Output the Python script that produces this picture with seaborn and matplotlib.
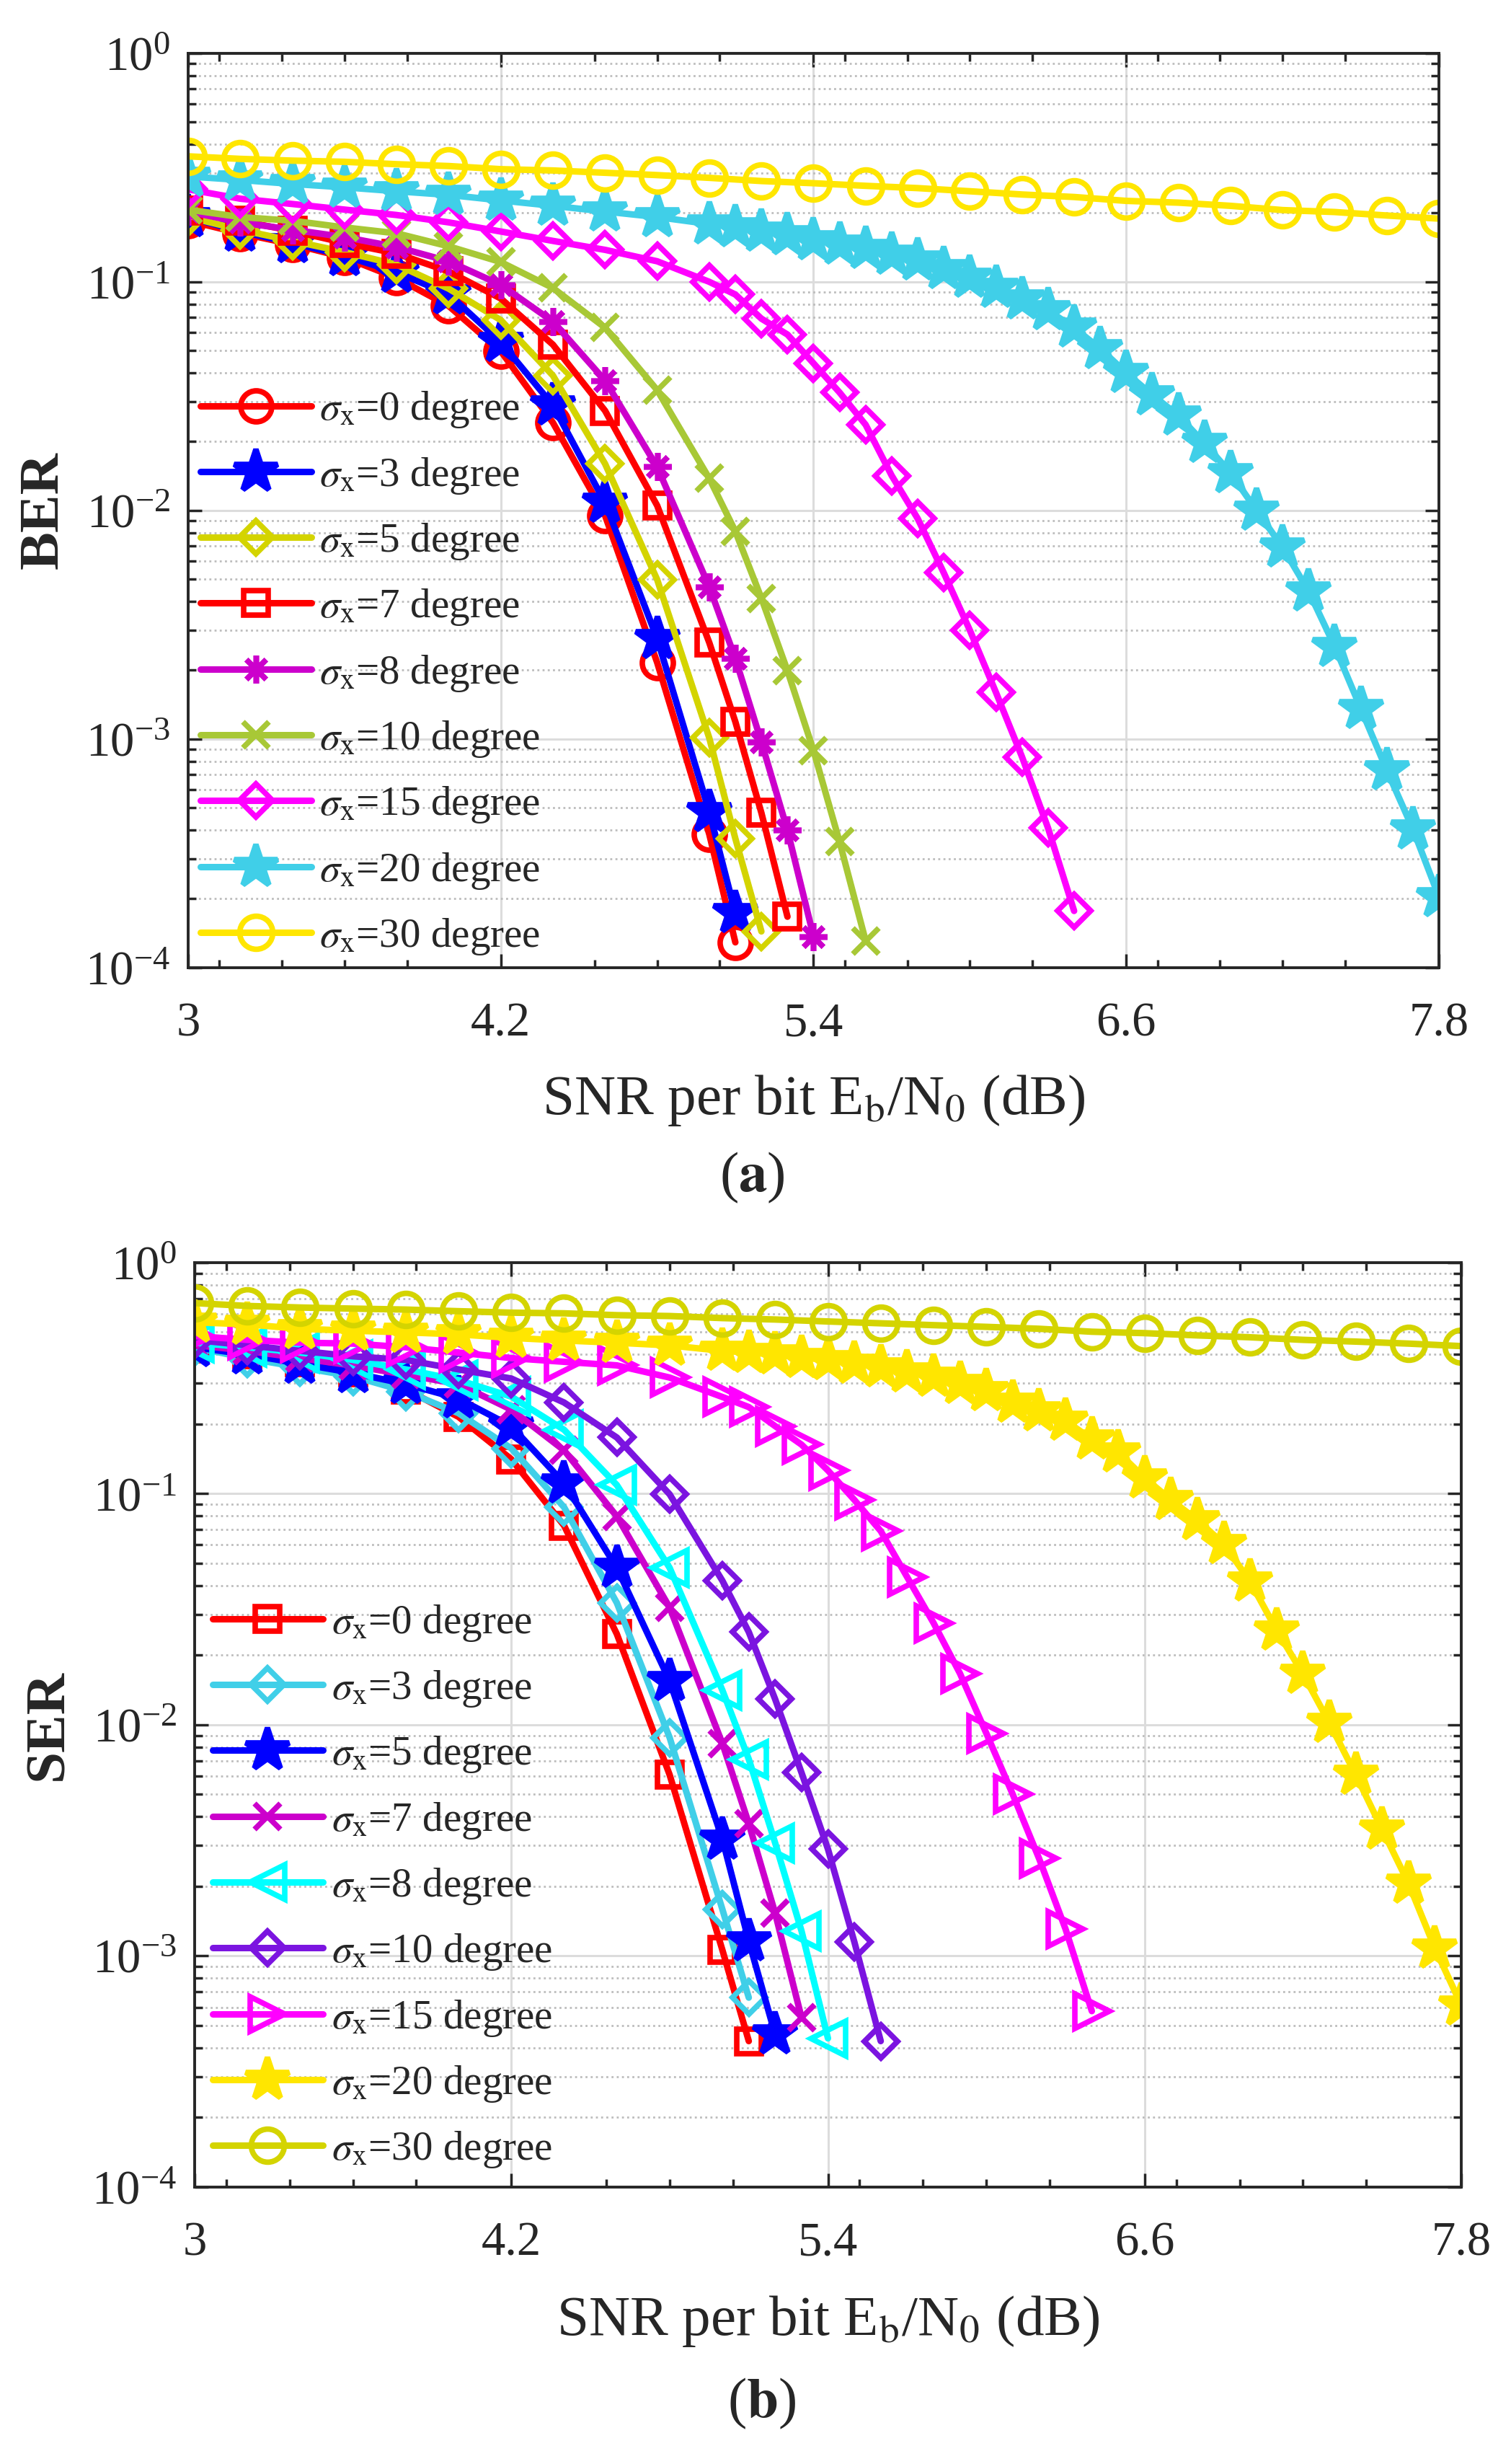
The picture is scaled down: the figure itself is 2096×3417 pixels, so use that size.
import numpy as np
import pandas as pd
import matplotlib
matplotlib.use("Agg")
import matplotlib.pyplot as plt
import seaborn as sns
from matplotlib.ticker import LogLocator, NullFormatter, FixedLocator

# Ejes de SNR (dB)
snr_grueso = [3.0, 3.2, 3.4, 3.6, 3.8, 4.0, 4.2, 4.4, 4.6, 4.8, 5.0]
snr_fino = [5.1, 5.2, 5.3, 5.4, 5.5, 5.6, 5.7, 5.8, 5.9, 6.0, 6.1, 6.2, 6.3, 6.4,
            6.5, 6.6, 6.7, 6.8, 6.9, 7.0, 7.1, 7.2, 7.3, 7.4, 7.5, 7.6, 7.7, 7.8]
snr_completo = [3.0, 3.2, 3.4, 3.6, 3.8, 4.0, 4.2, 4.4, 4.6, 4.8, 5.0, 5.2, 5.4,
                5.6, 5.8, 6.0, 6.2, 6.4, 6.6, 6.8, 7.0, 7.2, 7.4, 7.6, 7.8]

grados = [0, 3, 5, 7, 8, 10, 15, 20, 30]

# (a) BER
ber_0 = [0.185, 0.163, 0.146, 0.128, 0.104, 0.0784, 0.0497, 0.0242, 0.0095, 0.00216, 0.000383, 0.000129]
ber_3 = [0.192, 0.166, 0.148, 0.130, 0.110, 0.0883, 0.0545, 0.0288, 0.0108, 0.00275, 0.000481, 0.000173]
ber_5 = [0.192, 0.169, 0.151, 0.135, 0.119, 0.0933, 0.068, 0.0389, 0.0160, 0.00498, 0.00101, 0.000367, 0.000144]
ber_7 = [0.205, 0.185, 0.167, 0.148, 0.133, 0.111, 0.0845, 0.0531, 0.0273, 0.0105, 0.00264, 0.00119,
         0.000475, 0.000167]
ber_8 = [0.203, 0.182, 0.169, 0.157, 0.142, 0.123, 0.097, 0.067, 0.0370, 0.0155, 0.00463, 0.00225,
         0.00097, 0.000399, 0.000137]
ber_10 = [0.207, 0.192, 0.185, 0.173, 0.163, 0.143, 0.122, 0.094, 0.063, 0.0336, 0.0138, 0.0081,
          0.00413, 0.00199, 0.00089, 0.000355, 0.000131]
ber_15 = [0.254, 0.231, 0.219, 0.207, 0.196, 0.182, 0.166, 0.151, 0.138, 0.123, 0.100, 0.088, 0.069,
          0.0588, 0.044, 0.0328, 0.0237, 0.0142, 0.0092, 0.00533, 0.00299, 0.0016, 0.000836,
          0.000408, 0.000177]
ber_20 = [0.289, 0.279, 0.268, 0.259, 0.249, 0.240, 0.227, 0.215, 0.203, 0.192, 0.179, 0.173, 0.166,
          0.160, 0.152, 0.146, 0.139, 0.132, 0.124, 0.114, 0.104, 0.094, 0.084, 0.075, 0.063, 0.051,
          0.040, 0.032, 0.026, 0.0197, 0.0146, 0.0100, 0.0069, 0.00443, 0.00254, 0.00136, 0.00073,
          0.000404, 0.000204]
ber_30 = [0.354, 0.345, 0.339, 0.335, 0.327, 0.321, 0.311, 0.307, 0.300, 0.293, 0.285, 0.276, 0.270,
          0.263, 0.257, 0.249, 0.241, 0.235, 0.226, 0.222, 0.215, 0.206, 0.202, 0.195, 0.189]

# (b) SER
ser_0 = [0.425, 0.400, 0.372, 0.335, 0.283, 0.215, 0.141, 0.0728, 0.0247, 0.00608, 0.00106, 0.000428]
ser_3 = [0.430, 0.385, 0.352, 0.322, 0.277, 0.223, 0.157, 0.0874, 0.0337, 0.00881, 0.00159, 0.00066]
ser_5 = [0.430, 0.400, 0.365, 0.333, 0.298, 0.258, 0.196, 0.111, 0.0478, 0.0155, 0.0032, 0.00116, 0.000457]
ser_7 = [0.440, 0.415, 0.386, 0.358, 0.327, 0.298, 0.231, 0.154, 0.0798, 0.0322, 0.0083, 0.00374,
         0.00153, 0.00054]
ser_8 = [0.450, 0.430, 0.408, 0.379, 0.345, 0.310, 0.263, 0.189, 0.109, 0.0478, 0.0141, 0.0071,
         0.00308, 0.00128, 0.00044]
ser_10 = [0.463, 0.438, 0.415, 0.393, 0.379, 0.345, 0.315, 0.248, 0.175, 0.0994, 0.042, 0.0252,
          0.0129, 0.0062, 0.0029, 0.00115, 0.000428]
ser_15 = [0.481, 0.463, 0.450, 0.446, 0.430, 0.408, 0.386, 0.372, 0.359, 0.318, 0.262, 0.237, 0.196,
          0.163, 0.126, 0.094, 0.0689, 0.0436, 0.0276, 0.0167, 0.0092, 0.00501, 0.00264, 0.00131,
          0.000577]
ser_20 = [0.552, 0.540, 0.517, 0.507, 0.499, 0.489, 0.472, 0.460, 0.450, 0.438, 0.415, 0.408, 0.400,
          0.388, 0.379, 0.365, 0.352, 0.335, 0.321, 0.298, 0.279, 0.248, 0.227, 0.207, 0.172, 0.151,
          0.117, 0.094, 0.0768, 0.0606, 0.0416, 0.0257, 0.0166, 0.0102, 0.00608, 0.00353, 0.00206,
          0.00108, 0.000612]
ser_30 = [0.668, 0.649, 0.639, 0.632, 0.626, 0.616, 0.607, 0.603, 0.592, 0.587, 0.575, 0.567, 0.556,
          0.546, 0.536, 0.527, 0.517, 0.502, 0.495, 0.484, 0.475, 0.463, 0.455, 0.446, 0.435]

curvas_a = [ber_0, ber_3, ber_5, ber_7, ber_8, ber_10, ber_15, ber_20, ber_30]
curvas_b = [ser_0, ser_3, ser_5, ser_7, ser_8, ser_10, ser_15, ser_20, ser_30]

# x de cada curva: paso 0.2 hasta 5 dB y luego 0.1; la de 30 grados siempre a 0.2
ejes_x = [snr_grueso + snr_fino[:len(v) - len(snr_grueso)] for v in curvas_a[:-1]] + [snr_completo]

# Estilos (color, marcador, relleno, tamano)
estilos_a = [
    ("#FF0000", "o", False, 31),
    ("#0000FF", "*", True, 45),
    ("#D4D400", "D", False, 23),
    ("#FF0000", "s", False, 25),
    ("#CC00CC", (8, 2, 0), False, 28),
    ("#A8C836", "x", False, 26),
    ("#FF00FF", "D", False, 23),
    ("#40CFE8", "*", True, 45),
    ("#FFE600", "o", False, 33),
]
estilos_b = [
    ("#FF0000", "s", False, 25),
    ("#40CFE8", "D", False, 23),
    ("#0000FF", "*", True, 45),
    ("#CC00CC", "x", False, 26),
    ("#00FFFF", "<", False, 34),
    ("#7B14E0", "D", False, 23),
    ("#FF00FF", ">", False, 34),
    ("#FFE600", "*", True, 45),
    ("#D4D400", "o", False, 33),
]

sns.set_theme(style="ticks")
plt.rcParams["font.family"] = ["Liberation Serif", "DejaVu Serif"]
plt.rcParams["mathtext.fontset"] = "stix"
plt.rcParams["text.color"] = "#262626"
plt.rcParams["axes.labelcolor"] = "#262626"

fig = plt.figure(figsize=(20.96, 34.17), dpi=100)
ax1 = fig.add_axes([0.1245, 0.6073, 0.8278, 0.3711])
ax2 = fig.add_axes([0.1288, 0.1124, 0.8383, 0.3752])

menores_x = [3.12, 3.36, 3.6, 3.84, 4.56, 4.8, 5.04, 5.52, 5.76, 6.0, 6.24, 6.72, 6.96, 7.2, 7.44]


def dibujar(ax, curvas, estilos, ylab, leyenda_pos):
    for g, xs, vals, (col, mk, lleno, ms) in zip(grados, ejes_x, curvas, estilos):
        sns.lineplot(x=xs, y=vals, ax=ax, color=col, marker=mk,
                     markersize=ms, linewidth=6.5, markeredgewidth=5.5,
                     markeredgecolor=col, markerfacecolor=col if lleno else "none",
                     label=r"$\sigma_{\mathrm{x}}$=%d degree" % g, errorbar=None)

    ax.set_yscale("log")
    ax.set_xlim(3, 7.8)
    ax.set_ylim(1e-4, 1)
    ax.set_xticks([3, 4.2, 5.4, 6.6, 7.8])
    ax.set_xticklabels(["3", "4.2", "5.4", "6.6", "7.8"])
    ax.xaxis.set_minor_locator(FixedLocator(menores_x))
    ax.yaxis.set_major_locator(LogLocator(base=10, numticks=10))
    ax.yaxis.set_minor_locator(LogLocator(base=10, subs=np.arange(2, 10), numticks=20))
    ax.yaxis.set_minor_formatter(NullFormatter())

    ax.set_axisbelow(True)
    ax.grid(True, which="major", color="#DCDCDC", linewidth=2.2, linestyle="-")
    ax.grid(True, which="minor", axis="y", color="#BDBDBD", linewidth=2.0, linestyle=(0, (1, 1.6)))

    ax.tick_params(which="both", direction="in", top=True, right=True, colors="#262626",
                   labelsize=48, width=2.5)
    ax.tick_params(which="major", length=14, pad=18)
    ax.tick_params(axis="x", which="major", pad=34)
    ax.tick_params(which="minor", length=8)
    for s in ax.spines.values():
        s.set_linewidth(2.8)
        s.set_color("#262626")

    ax.set_xlabel(r"SNR per bit E$_{\mathrm{b}}$/N$_{\mathrm{0}}$ (dB)", fontsize=57, va="center")
    ax.xaxis.set_label_coords(0.5, -0.145)
    ax.set_ylabel(ylab, fontsize=57, fontweight="bold", va="center")
    ax.yaxis.set_label_coords(-0.115, 0.5)

    h, l = ax.get_legend_handles_labels()
    ax.legend(h, l, loc="upper left", bbox_to_anchor=leyenda_pos, frameon=False,
              fontsize=41, handlelength=2.7, handletextpad=0.2, labelspacing=0.62,
              borderaxespad=0, borderpad=0)


dibujar(ax1, curvas_a, estilos_a, "BER", (0.01, 0.632))
dibujar(ax2, curvas_b, estilos_b, "SER", (0.014, 0.632))

fig.text(0.4978, 0.5221, r"($\mathbf{a}$)", fontsize=57, ha="center", va="center")
fig.text(0.504, 0.0246, r"($\mathbf{b}$)", fontsize=57, ha="center", va="center")

fig.savefig("out.png", dpi=100)
